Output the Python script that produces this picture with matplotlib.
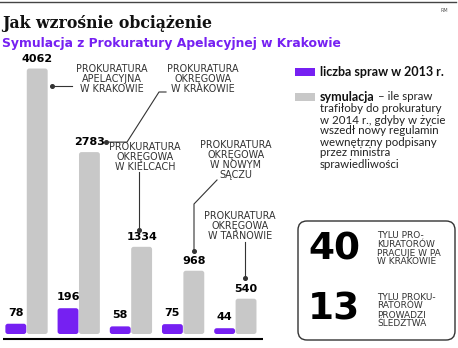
import numpy as np
import matplotlib
matplotlib.use("Agg")
import matplotlib.pyplot as plt
from matplotlib.patches import FancyBboxPatch, Rectangle

# ---- data ----
groups = ["PROKURATURA\nAPELACYJNA\nW KRAKOWIE",
          "PROKURATURA\nOKRĘGOWA\nW KRAKOWIE",
          "PROKURATURA\nOKRĘGOWA\nW KIELCACH",
          "PROKURATURA\nOKRĘGOWA\nW NOWYM\nSĄCZU",
          "PROKURATURA\nOKRĘGOWA\nW TARNOWIE"]
cases_2013 = [78, 196, 58, 75, 44]
simulation = [4062, 2783, 1334, 968, 540]
legend_2013 = "liczba spraw w 2013 r."
legend_sim_bold = "symulacja"
legend_sim_rest = " – ile spraw"
legend_sim_lines = ["trafiłoby do prokuratury", "w 2014 r., gdyby w życie",
                    "wszedł nowy regulamin", "wewnętrzny podpisany",
                    "przez ministra", "sprawiedliwości"]
fact_numbers = ["40", "13"]
fact_texts = [["TYLU PRO-", "KURATORÓW", "PRACUJE W PA", "W KRAKOWIE"],
              ["TYLU PROKU-", "RATORÓW", "PROWADZI", "ŚLEDZTWA"]]
title = "Jak wzrośnie obciążenie"
subtitle = "Symulacja z Prokuratury Apelacyjnej w Krakowie"

PURPLE = "#7620F2"
GRAY = "#C8C8C8"
DARK = "#333333"

W, H = 458, 348
fig = plt.figure(figsize=(W / 100, H / 100), dpi=100)
fig.patch.set_facecolor("white")

base_px = 334
top_px = 50
ax = fig.add_axes([0, 1 - base_px / H, 263 / W, (base_px - top_px) / H])
ax.set_xlim(-0.508, 4.53)
gscale = 15.3   # units per pixel for simulation bars
pscale = 7.6    # units per pixel for 2013 bars
ax.set_ylim(0, (base_px - top_px) * gscale)
ax2 = ax.twinx()
ax2.set_ylim(0, (base_px - top_px) * pscale)
for a in (ax, ax2):
    a.axis("off")

x = np.arange(len(simulation))
bw = 0.40
xpp = (4.53 + 0.508) / 263.0  # x units per pixel
rad = 2.5 * xpp


def round_bars(axis, bars, yscale, color):
    for b in bars:
        b.set_visible(False)
        p = FancyBboxPatch((b.get_x(), b.get_y()), b.get_width(), b.get_height(),
                           boxstyle=f"round,pad=0,rounding_size={rad}",
                           mutation_aspect=yscale / xpp, fc=color, ec="none")
        axis.add_patch(p)


gb = ax.bar(x + 0.205, simulation, width=bw, color=GRAY)
pb = ax2.bar(x - 0.205, cases_2013, width=bw, color=PURPLE)
round_bars(ax, gb, gscale, GRAY)
round_bars(ax2, pb, pscale, PURPLE)

for xi, v in zip(x, simulation):
    ax.annotate(str(v), xy=(xi + 0.205, v), xytext=(0, 5), textcoords="offset pixels",
                ha="center", va="bottom", fontsize=8, fontweight="bold", color="black")
for xi, v in zip(x, cases_2013):
    ax2.annotate(str(v), xy=(xi - 0.205, v), xytext=(0, 6), textcoords="offset pixels",
                 ha="center", va="bottom", fontsize=8, fontweight="bold", color="black")

# ---- overlay in pixel coordinates ----
ov = fig.add_axes([0, 0, 1, 1], zorder=5)
ov.set_xlim(0, W)
ov.set_ylim(H, 0)
ov.axis("off")
ov.patch.set_alpha(0)


def ypx(axis, xv, v):
    d = axis.transData.transform((xv, v))
    return H - d[1]


ov.plot([0, 456], [1.5, 1.5], color="#444444", lw=1)
ov.text(444, 10, "RM", fontsize=3.5, color="#555555", ha="center", va="center")
ov.text(2, 28, title, fontsize=11.3, fontweight="bold", family="DejaVu Serif",
        ha="left", va="baseline", color="#111111")
ov.text(2, 43, subtitle, fontsize=8.95, fontweight="bold", family="DejaVu Sans",
        ha="left", va="center", color=PURPLE)
ov.plot([3, 263], [338.5, 338.5], color="black", lw=1.5, solid_capstyle="butt")

# group annotations
lab_kw = dict(fontsize=6.9, color=DARK, ha="center", va="center", family="DejaVu Sans")
lab_pos = [(112, [69, 79, 89]), (203, [69, 79, 89]), (145, [147, 157, 167]),
           (236, [145, 155, 165, 175]), (240, [216, 226, 236])]
for g, (cx, ys) in zip(groups, lab_pos):
    for line, yy in zip(g.split("\n"), ys):
        ov.text(cx, yy, line, **lab_kw)

line_kw = dict(color=DARK, lw=0.8)
dot_kw = dict(marker="o", ms=2.6, color=DARK, ls="none")

lab_y = [ypx(ax, xi + 0.205, v) - 9 for xi, v in zip(x, simulation)]
# group 1
ov.plot([52, 72], [86, 86], **line_kw)
ov.plot([52], [86], **dot_kw)
# group 2
y2 = lab_y[1] - 1
ov.plot([106, 127, 159, 166], [y2, y2, 92, 92], **line_kw)
ov.plot([106], [y2], **dot_kw)
# group 3
y3 = lab_y[2] - 8
ov.plot([139, 139], [172, y3], **line_kw)
ov.plot([139], [y3], **dot_kw)
# group 4
y4 = lab_y[3] - 11
ov.plot([217, 194, 194], [180, 204, y4], **line_kw)
ov.plot([194], [y4], **dot_kw)
# group 5
y5 = lab_y[4] - 12
ov.plot([245, 245], [242, y5], **line_kw)
ov.plot([245], [y5], **dot_kw)

# legend
ov.add_patch(Rectangle((295, 68), 20, 8, fc=PURPLE, ec="none"))
ov.add_patch(Rectangle((295, 93), 20, 8, fc=GRAY, ec="none"))
leg_kw = dict(fontsize=8.3, family="Lato", color="#222222", ha="left")
bold_kw = dict(fontsize=9.0, family="Lato", color="#111111", ha="left", fontweight="bold")
ov.text(320, 72, legend_2013, va="center", **bold_kw)
t1 = ov.text(320, 97, legend_sim_bold, va="center", **bold_kw)
ov.annotate(legend_sim_rest, xy=(1, 0.5), xycoords=t1, va="center", **leg_kw)
for i, line in enumerate(legend_sim_lines):
    ov.text(320, 109 + 11 * i, line, va="center", **leg_kw)

# fact box
ov.add_patch(FancyBboxPatch((298, 221), 157, 119, boxstyle="round,pad=0,rounding_size=9",
                            fc="none", ec=DARK, lw=1))
num_y = [250, 309]
txt_y = [[236, 244.5, 253, 261.5], [297, 306, 315, 324]]
for n, ny, lines, tys in zip(fact_numbers, num_y, fact_texts, txt_y):
    ov.text(308, ny, n, fontsize=27, fontweight="bold", family="DejaVu Sans",
            ha="left", va="center", color="black")
    for line, ty in zip(lines, tys):
        ov.text(377, ty, line, fontsize=6.5, color=DARK, ha="left", va="center",
                family="DejaVu Sans")

fig.savefig("out.png", dpi=100)
